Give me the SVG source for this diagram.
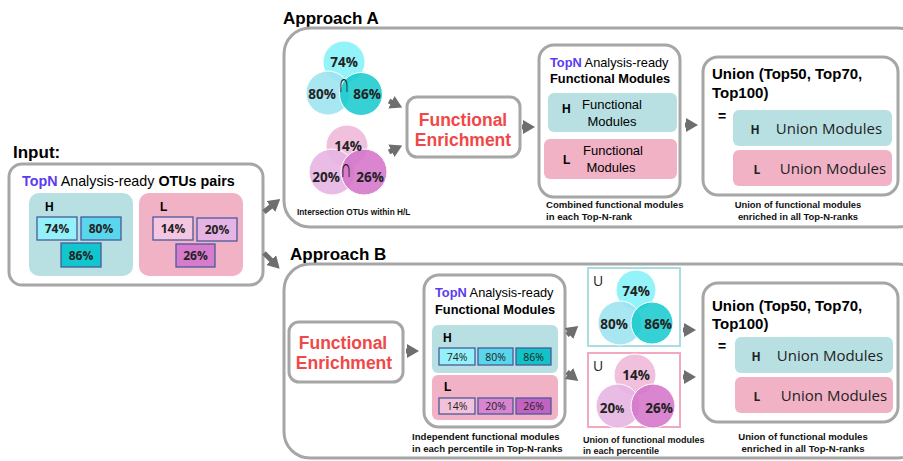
<svg xmlns="http://www.w3.org/2000/svg" width="903" height="461" viewBox="0 0 903 461">
<defs>
<marker id="ah" markerUnits="userSpaceOnUse" markerWidth="14" markerHeight="14" refX="4" refY="7" orient="auto">
<path d="M0,0 L12,7 L0,14 Z" fill="#6e6e6e"/>
</marker>
</defs>
<style>
.t{font-family:"Liberation Sans",Arial,sans-serif;fill:#000}
.b{font-weight:bold}
.o{font-family:"Open Sans","Liberation Sans",sans-serif;fill:#222}
.frame{fill:#fff;stroke:#a6a6a6;stroke-width:3}
.hb{fill:#b8e0e3}
.lb{fill:#f1b2c6}
.pb{stroke:#4a5a9a;stroke-width:1.3}
.red{fill:#f04848;font-weight:bold;font-family:"Liberation Sans",Arial,sans-serif}
.blue{fill:#5b3cf0;font-weight:bold}
.cap{font-family:"Liberation Sans",Arial,sans-serif;font-weight:bold;fill:#111}
.arr{stroke:#6e6e6e;stroke-width:5;fill:none;marker-end:url(#ah)}
.cir{stroke:#fff;stroke-width:1}
.cap2{font-family:"Liberation Sans",Arial,sans-serif;font-weight:bold;fill:#111}
</style>

<rect width="903" height="461" fill="#fff"/>

<!-- Input -->
<g id="input">
<text x="13" y="158" class="t b" font-size="17">Input:</text>
<rect x="9" y="164" width="254" height="121" rx="13" class="frame"/>
<text x="22" y="186" class="t" font-size="14.3"><tspan class="blue">TopN</tspan> Analysis-ready <tspan class="b">OTUs pairs</tspan></text>
<rect x="29" y="193" width="104" height="83" rx="10" class="hb"/>
<text x="45" y="211" class="t b" font-size="12">H</text>
<rect x="37" y="217" width="40" height="23" fill="#95f1f9" class="pb"/>
<rect x="81" y="217" width="40" height="23" fill="#59d6ec" class="pb"/>
<rect x="61" y="243" width="40" height="24" fill="#11c6cc" class="pb"/>
<text x="57" y="233" class="o b" font-size="12" text-anchor="middle">74%</text>
<text x="101" y="233" class="o b" font-size="12" text-anchor="middle">80%</text>
<text x="81" y="260" class="o b" font-size="12" text-anchor="middle">86%</text>
<rect x="139" y="193" width="104" height="83" rx="10" class="lb"/>
<text x="160" y="211" class="t b" font-size="12">L</text>
<rect x="153" y="217" width="40" height="23" fill="#f4c6e0" class="pb"/>
<rect x="197" y="218" width="40" height="23" fill="#e6b4e4" class="pb"/>
<rect x="176" y="244" width="39" height="23" fill="#d77ccd" class="pb"/>
<text x="173" y="233" class="o b" font-size="12" text-anchor="middle">14%</text>
<text x="217" y="234" class="o b" font-size="12" text-anchor="middle">20%</text>
<text x="195.5" y="260" class="o b" font-size="12" text-anchor="middle">26%</text>
</g>

<!-- Approach A -->
<g id="approachA">
<text x="283" y="24" class="t b" font-size="17">Approach A</text>
<rect x="284" y="28" width="640" height="199" rx="26" class="frame"/>
</g>

<g id="vennA_H">
<circle cx="344" cy="62" r="21" fill="#93f3f8" class="cir"/>
<circle cx="328" cy="93" r="22" fill="#9fe3f1" fill-opacity="0.9" class="cir"/>
<circle cx="361" cy="94" r="21.5" fill="#12c9cd" fill-opacity="0.85" class="cir"/>
<text x="344" y="67" class="o b" font-size="13.5" text-anchor="middle">74%</text>
<text x="322" y="99" class="o b" font-size="13.5" text-anchor="middle">80%</text>
<text x="367" y="99" class="o b" font-size="13.5" text-anchor="middle">86%</text>
<text x="0" y="0" class="cap2" style="font-size:26px" text-anchor="middle" transform="translate(344,92) scale(0.6,1)">∩</text>
</g>

<g id="vennA_L">
<circle cx="347" cy="146" r="21" fill="#f1c0dc" class="cir"/>
<circle cx="332" cy="172" r="23" fill="#e7b5e3" fill-opacity="0.9" class="cir"/>
<circle cx="364" cy="172" r="23" fill="#d474c9" fill-opacity="0.88" class="cir"/>
<text x="348" y="151" class="o b" font-size="13.5" text-anchor="middle">14%</text>
<text x="326" y="182" class="o b" font-size="13.5" text-anchor="middle">20%</text>
<text x="370" y="182" class="o b" font-size="13.5" text-anchor="middle">26%</text>
<text x="0" y="0" class="cap2" style="font-size:26px" text-anchor="middle" transform="translate(346,177) scale(0.6,1)">∩</text>
<text x="297" y="215" class="cap" style="font-size:8.3px">Intersection OTUs within H/L</text>
</g>

<g id="enrichA">
<rect x="407" y="97" width="113" height="60" rx="10" class="frame"/>
<text x="463" y="126" class="red" font-size="17.5" text-anchor="middle">Functional</text>
<text x="463" y="146" class="red" font-size="17.5" text-anchor="middle">Enrichment</text>
</g>

<g id="modulesA">
<rect x="539" y="45" width="141" height="152" rx="15" class="frame"/>
<text x="550" y="67" class="t" font-size="12.8"><tspan class="blue">TopN</tspan> Analysis-ready</text>
<text x="550" y="83" class="t b" font-size="12.8">Functional Modules</text>
<rect x="548" y="93" width="129" height="39" rx="6" class="hb"/>
<text x="562" y="113" class="t b" font-size="12">H</text>
<text x="612" y="109" class="t" font-size="13" text-anchor="middle">Functional</text>
<text x="612" y="126" class="t" font-size="13" text-anchor="middle">Modules</text>
<rect x="544" y="139" width="133" height="40" rx="6" class="lb"/>
<text x="563" y="164" class="t b" font-size="12">L</text>
<text x="613" y="155" class="t" font-size="13" text-anchor="middle">Functional</text>
<text x="611" y="172" class="t" font-size="13" text-anchor="middle">Modules</text>
<text x="546" y="208" class="cap" font-size="9.6">Combined functional modules</text>
<text x="546" y="220" class="cap" font-size="9.6">in each Top-N-rank</text>
</g>

<g id="unionA">
<rect x="703" y="57" width="195" height="138" rx="15" class="frame"/>
<text x="712" y="79" class="t b" font-size="15">Union (Top50, Top70,</text>
<text x="712" y="98" class="t b" font-size="15">Top100)</text>
<text x="722" y="121" class="t b" font-size="14" text-anchor="middle">=</text>
<rect x="733" y="110" width="159" height="36" rx="6" class="hb"/>
<text x="755" y="134" class="o b" font-size="12" text-anchor="middle">H</text>
<text x="829" y="134" class="o" font-size="15" text-anchor="middle">Union Modules</text>
<rect x="733" y="150" width="159" height="36" rx="6" class="lb"/>
<text x="757" y="174" class="o b" font-size="12" text-anchor="middle">L</text>
<text x="833" y="174" class="o" font-size="15" text-anchor="middle">Union Modules</text>
<text x="798" y="208" class="cap" font-size="9.4" text-anchor="middle">Union of functional modules</text>
<text x="798" y="220" class="cap" font-size="9.4" text-anchor="middle">enriched in all Top-N-ranks</text>
</g>

<!-- Approach B -->
<g id="approachB">
<text x="290" y="260" class="t b" font-size="17">Approach B</text>
<rect x="284" y="264" width="640" height="194" rx="26" class="frame"/>
</g>

<g id="enrichB">
<rect x="289" y="322" width="114" height="60" rx="10" class="frame"/>
<text x="343" y="349" class="red" font-size="17.5" text-anchor="middle">Functional</text>
<text x="344" y="369" class="red" font-size="17.5" text-anchor="middle">Enrichment</text>
</g>

<g id="modulesB">
<rect x="424" y="275" width="141" height="152" rx="15" class="frame"/>
<text x="435" y="297" class="t" font-size="12.8"><tspan class="blue">TopN</tspan> Analysis-ready</text>
<text x="435" y="314" class="t b" font-size="12.8">Functional Modules</text>
<rect x="432" y="325" width="126" height="48" rx="6" class="hb"/>
<text x="443" y="342" class="t b" font-size="12">H</text>
<rect x="439" y="348" width="36" height="17" fill="#95f1f9" class="pb"/>
<rect x="478" y="348" width="35" height="17" fill="#59d6ec" class="pb"/>
<rect x="516" y="348" width="35" height="17" fill="#11c2c6" class="pb"/>
<text x="457" y="361" class="o" font-size="10.5" text-anchor="middle">74%</text>
<text x="495.5" y="361" class="o" font-size="10.5" text-anchor="middle">80%</text>
<text x="533.5" y="361" class="o" font-size="10.5" text-anchor="middle">86%</text>
<rect x="432" y="375" width="126" height="45" rx="6" class="lb"/>
<text x="444" y="391" class="t b" font-size="12">L</text>
<rect x="439" y="398" width="36" height="16" fill="#f1c2da" class="pb"/>
<rect x="478" y="398" width="35" height="16" fill="#d985d2" class="pb"/>
<rect x="516" y="398" width="35" height="16" fill="#c262c2" class="pb"/>
<text x="457" y="410" class="o" font-size="10.5" text-anchor="middle">14%</text>
<text x="495.5" y="410" class="o" font-size="10.5" text-anchor="middle">20%</text>
<text x="533.5" y="410" class="o" font-size="10.5" text-anchor="middle">26%</text>
<text x="412" y="440" class="cap" font-size="9.6">Independent functional modules</text>
<text x="412" y="452" class="cap" font-size="9.6">in each percentile in Top-N-ranks</text>
</g>

<g id="vennB_H">
<rect x="588" y="268" width="92" height="78" fill="#fff" stroke="#a9dde2" stroke-width="2"/>
<text x="593" y="286" class="o" font-size="14">U</text>
<circle cx="636" cy="290" r="20" fill="#93f3f8" class="cir"/>
<circle cx="620" cy="323" r="22" fill="#9fe3f1" fill-opacity="0.9" class="cir"/>
<circle cx="652" cy="323" r="21" fill="#12c9cd" fill-opacity="0.85" class="cir"/>
<text x="636" y="296" class="o b" font-size="13.5" text-anchor="middle">74%</text>
<text x="614" y="329" class="o b" font-size="13.5" text-anchor="middle">80%</text>
<text x="658" y="329" class="o b" font-size="13.5" text-anchor="middle">86%</text>
</g>

<g id="vennB_L">
<rect x="588" y="353" width="92" height="74" fill="#fff" stroke="#f0a9c1" stroke-width="2"/>
<text x="593" y="371" class="o" font-size="14">U</text>
<circle cx="635" cy="375" r="21" fill="#f1c0dc" class="cir"/>
<circle cx="618" cy="406" r="22" fill="#e7b5e3" fill-opacity="0.9" class="cir"/>
<circle cx="653" cy="406" r="22" fill="#d474c9" fill-opacity="0.88" class="cir"/>
<text x="636" y="380" class="o b" font-size="13.5" text-anchor="middle">14%</text>
<text x="612" y="413" class="o b" font-size="13.5" text-anchor="middle">20<tspan font-size="10">%</tspan></text>
<text x="659" y="413" class="o b" font-size="13.5" text-anchor="middle">26%</text>
<text x="583" y="443" class="cap" font-size="9">Union of functional modules</text>
<text x="583" y="454" class="cap" font-size="9">in each percentile</text>
</g>

<g id="unionB">
<rect x="703" y="283" width="195" height="139" rx="15" class="frame"/>
<text x="712" y="311" class="t b" font-size="15">Union (Top50, Top70,</text>
<text x="712" y="329" class="t b" font-size="15">Top100)</text>
<text x="722" y="351" class="t b" font-size="14" text-anchor="middle">=</text>
<rect x="735" y="337" width="158" height="36" rx="6" class="hb"/>
<text x="756" y="361" class="o b" font-size="12" text-anchor="middle">H</text>
<text x="830" y="361" class="o" font-size="15" text-anchor="middle">Union Modules</text>
<rect x="735" y="377" width="158" height="36" rx="6" class="lb"/>
<text x="757" y="401" class="o b" font-size="12" text-anchor="middle">L</text>
<text x="834" y="401" class="o" font-size="15" text-anchor="middle">Union Modules</text>
<text x="803" y="440" class="cap" font-size="9.6" text-anchor="middle">Union of functional modules</text>
<text x="803" y="452" class="cap" font-size="9.6" text-anchor="middle">enriched in all Top-N-ranks</text>
</g>

<g id="connectors">
<line x1="264" y1="212" x2="274" y2="204" class="arr"/>
<line x1="264" y1="253" x2="274" y2="263" class="arr"/>
<line x1="389" y1="101" x2="395" y2="104" class="arr"/>
<line x1="389" y1="152" x2="395" y2="149" class="arr"/>
<line x1="522" y1="127" x2="527" y2="127" class="arr"/>
<line x1="685" y1="125" x2="690" y2="125" class="arr"/>
<line x1="406" y1="351" x2="411" y2="351" class="arr"/>
<line x1="567" y1="335" x2="572" y2="331" class="arr"/>
<line x1="567" y1="372" x2="572" y2="376" class="arr"/>
<line x1="683" y1="330" x2="688" y2="330" class="arr"/>
<line x1="683" y1="377" x2="688" y2="377" class="arr"/>
</g>
</svg>
